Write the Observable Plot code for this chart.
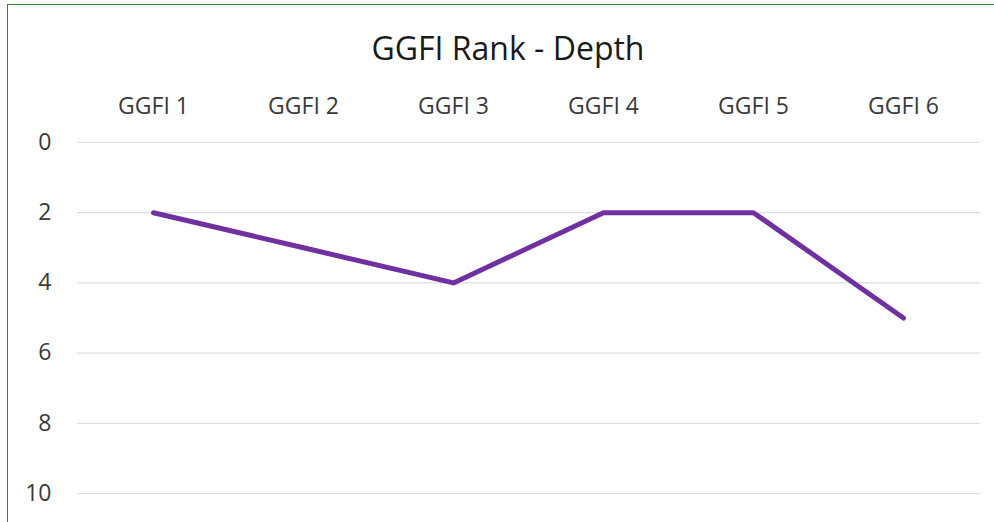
<!DOCTYPE html>
<html>
<head>
<meta charset="utf-8">
<script src="https://cdn.jsdelivr.net/npm/d3@7"></script>
<script src="https://cdn.jsdelivr.net/npm/@observablehq/plot@0.6"></script>
<style>
  html, body { margin: 0; padding: 0; background: #fff; overflow: hidden; }
  #wrap { position: relative; width: 994px; height: 522px; }
  #border { position: absolute; left: 7px; top: 4px; width: 1200px; height: 800px; border: 1.5px solid #2a8a2a; box-sizing: border-box; }
  #title { position: absolute; left: 0; width: 1016px; top: 26px; line-height: 44px; text-align: center; font-family: "Open Sans", sans-serif; font-size: 32px; color: #1a1a1a; }
  #chart { position: absolute; left: 0; top: 0; }
</style>
</head>
<body>
<div id="wrap">
  <div id="border"></div>
  <div id="title">GGFI Rank - Depth</div>
  <div id="chart"></div>
</div>
<script>
const categories = ["GGFI 1", "GGFI 2", "GGFI 3", "GGFI 4", "GGFI 5", "GGFI 6"];
const depthRank = [2, 3, 4, 2, 2, 5];
const yTicks = [0, 2, 4, 6, 8, 10];

const data = categories.map((c, i) => ({cat: c, v: depthRank[i]}));

const plot = Plot.plot({
  width: 994,
  height: 522,
  marginLeft: 77,
  marginRight: 14,
  marginTop: 142,
  marginBottom: 29,
  style: {fontFamily: "Open Sans, sans-serif", fontSize: "23px", color: "#3a3a3a", background: "transparent"},
  x: {type: "point", domain: categories, range: [151, 905], padding: 0, axis: "top", label: null, tickSize: 0, tickPadding: 29},
  y: {domain: [0, 10], reverse: true, ticks: yTicks, label: null, tickSize: 0, tickPadding: 26},
  marks: [
    Plot.gridY(yTicks, {stroke: "#dedede", strokeOpacity: 1, strokeWidth: 1.2}),
    Plot.lineY(data, {x: "cat", y: "v", stroke: "#7030a0", strokeWidth: 5, strokeLinejoin: "round", strokeLinecap: "round"})
  ]
});
document.getElementById("chart").appendChild(plot);
</script>
</body>
</html>
